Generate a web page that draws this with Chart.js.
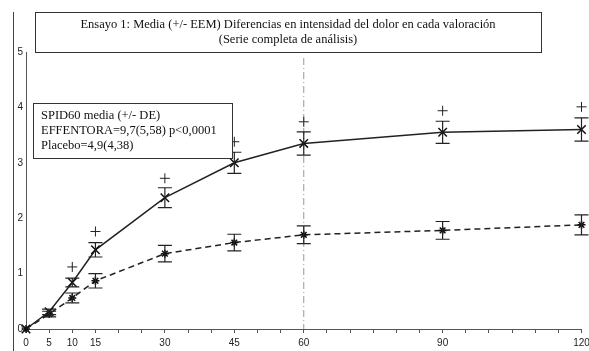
<!DOCTYPE html>
<html>
<head>
<meta charset="utf-8">
<script src="https://cdn.jsdelivr.net/npm/chart.js@4.4.1/dist/chart.umd.min.js"></script>
<style>
  html, body { margin: 0; padding: 0; background: #fff; }
  #wrap { width: 589px; height: 351px; }
</style>
</head>
<body>
<div id="wrap"><canvas id="chart" width="589" height="351"></canvas></div>
<script>
// minutes after dose
var minutes = [0, 5, 10, 15, 30, 45, 60, 90, 120];
var tickLabels = [0, 5, 10, 15, 30, 45, 60, 90, 120];
// mean pain intensity difference, +/- SEM
var effentora = [0, 0.31, 0.84, 1.43, 2.37, 3.0, 3.35, 3.55, 3.6];
var effentoraErr = [0, 0.05, 0.08, 0.13, 0.18, 0.19, 0.21, 0.2, 0.21];
var placebo = [0, 0.27, 0.56, 0.87, 1.36, 1.56, 1.70, 1.78, 1.88];
var placeboErr = [0, 0.05, 0.09, 0.13, 0.15, 0.15, 0.16, 0.16, 0.18];
// "+" significance marks
var signifMinutes = [10, 15, 30, 45, 60, 90, 120];
var signifValues = [1.12, 1.76, 2.72, 3.38, 3.74, 3.94, 4.01];
var markerMinute = 60;

var titleLines = [
    "Ensayo 1: Media (+/- EEM) Diferencias en intensidad del dolor en cada valoración",
    "(Serie completa de análisis)"
];
var legendLines = [
    "SPID60 media (+/- DE)",
    "EFFENTORA=9,7(5,58) p<0,0001",
    "Placebo=4,9(4,38)"
];

function toPoints(xs, ys) {
    return xs.map(function(x, i) { return {x: x, y: ys[i]}; });
}

var errorBars = {
    id: 'errorBars',
    afterDatasetsDraw: function(chart) {
        var ctx = chart.ctx;
        var xs = chart.scales.x, ys = chart.scales.y;
        ctx.save();
        ctx.strokeStyle = '#222';
        ctx.lineWidth = 1.2;
        chart.data.datasets.forEach(function(ds) {
            if (!ds.err) return;
            ds.data.forEach(function(p, i) {
                var e = ds.err[i];
                if (!e) return;
                var px = xs.getPixelForValue(p.x);
                var top = ys.getPixelForValue(p.y + e);
                var bot = ys.getPixelForValue(p.y - e);
                ctx.beginPath();
                ctx.moveTo(px, top); ctx.lineTo(px, bot);
                ctx.moveTo(px - 7, top); ctx.lineTo(px + 7, top);
                ctx.moveTo(px - 7, bot); ctx.lineTo(px + 7, bot);
                ctx.stroke();
            });
        });
        ctx.restore();
    }
};

var decorations = {
    id: 'decorations',
    beforeDatasetsDraw: function(chart) {
        var ctx = chart.ctx, area = chart.chartArea;
        var px = chart.scales.x.getPixelForValue(markerMinute);
        ctx.save();
        // dash-dot line at 60 min
        ctx.strokeStyle = '#999';
        ctx.lineWidth = 1;
        ctx.setLineDash([7, 3, 1, 3]);
        ctx.beginPath();
        ctx.moveTo(px, area.top + 6);
        ctx.lineTo(px, area.bottom);
        ctx.stroke();
        ctx.setLineDash([]);
        // outer frame line
        ctx.strokeStyle = '#444';
        ctx.beginPath();
        ctx.moveTo(13.5, 12);
        ctx.lineTo(13.5, 351);
        ctx.stroke();
        ctx.restore();
    },
    afterDraw: function(chart) {
        var ctx = chart.ctx;
        ctx.save();
        ctx.lineWidth = 1;
        ctx.strokeStyle = '#333';
        ctx.fillStyle = '#fff';
        // title box
        ctx.fillRect(35, 12, 506, 40);
        ctx.strokeRect(35.5, 12.5, 506, 40);
        ctx.fillStyle = '#111';
        ctx.font = '12.5px "Liberation Serif", "Times New Roman", serif';
        ctx.textAlign = 'center';
        ctx.textBaseline = 'middle';
        ctx.fillText(titleLines[0], 288, 25);
        ctx.fillText(titleLines[1], 288, 40);
        // legend box
        ctx.fillStyle = '#fff';
        ctx.fillRect(33, 103, 199, 55);
        ctx.strokeRect(33.5, 103.5, 199, 55);
        ctx.fillStyle = '#111';
        ctx.font = '12.5px "Liberation Serif", "Times New Roman", serif';
        ctx.textAlign = 'left';
        legendLines.forEach(function(t, i) {
            ctx.fillText(t, 41, 116 + i * 15);
        });
        ctx.restore();
    }
};

var ctx = document.getElementById('chart').getContext('2d');
var chart = new Chart(ctx, {
    type: 'scatter',
    data: {
        datasets: [
            {
                label: 'EFFENTORA',
                data: toPoints(minutes, effentora),
                err: effentoraErr,
                showLine: true,
                tension: 0,
                borderColor: '#222',
                borderWidth: 1.5,
                pointStyle: 'crossRot',
                pointRadius: 6,
                pointBorderWidth: 1.5,
                pointBorderColor: '#111',
                clip: false
            },
            {
                label: 'Placebo',
                data: toPoints(minutes, placebo),
                err: placeboErr,
                showLine: true,
                tension: 0,
                borderColor: '#222',
                borderWidth: 1.5,
                borderDash: [6, 4],
                pointStyle: 'star',
                pointRadius: 4,
                pointBorderWidth: 1.5,
                pointBorderColor: '#111',
                clip: false
            },
            {
                label: 'signif',
                data: toPoints(signifMinutes, signifValues),
                showLine: false,
                pointStyle: 'cross',
                pointRadius: 5,
                pointBorderWidth: 1,
                pointBorderColor: '#222',
                clip: false
            }
        ]
    },
    options: {
        responsive: false,
        devicePixelRatio: 1,
        animation: false,
        layout: { padding: { top: 52, right: 6, left: 0, bottom: 0 } },
        plugins: { legend: { display: false }, tooltip: { enabled: false } },
        scales: {
            x: {
                type: 'linear',
                min: 0,
                max: 120,
                afterFit: function(s) { s.height = 22; s.paddingRight = 0; s.paddingLeft = 0; },
                border: { display: true, color: '#555', width: 1 },
                grid: { drawOnChartArea: false, drawTicks: true, tickLength: 4, color: '#555' },
                ticks: {
                    stepSize: 5,
                    autoSkip: false,
                    maxRotation: 0,
                    padding: 4,
                    color: '#222',
                    font: { family: '"Liberation Sans", Arial, sans-serif', size: 10 },
                    callback: function(v) { return tickLabels.indexOf(v) >= 0 ? String(v) : ''; }
                }
            },
            y: {
                min: 0,
                max: 5,
                afterFit: function(s) { s.width = 26; s.paddingTop = 0; s.paddingBottom = 0; },
                border: { display: true, color: '#555', width: 1 },
                grid: { drawOnChartArea: false, drawTicks: false },
                ticks: {
                    stepSize: 1,
                    padding: 3,
                    color: '#222',
                    font: { family: '"Liberation Sans", Arial, sans-serif', size: 10 }
                }
            }
        }
    },
    plugins: [decorations, errorBars]
});
</script>
</body>
</html>
